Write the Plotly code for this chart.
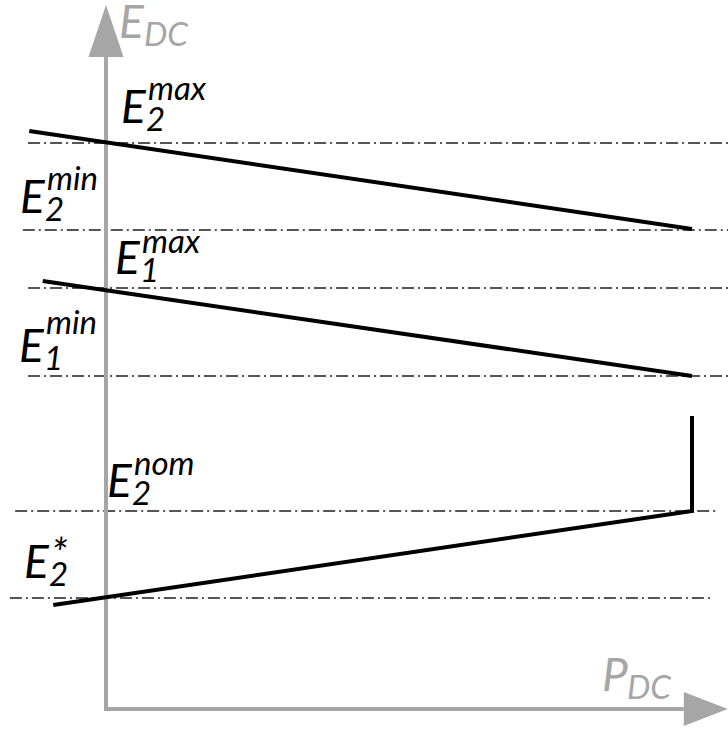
import plotly.graph_objects as go

# DC voltage levels (arbitrary units on the E axis)
level_values = [5.66, 4.79, 4.21, 3.33, 1.98, 1.11]
level_main = ["E", "E", "E", "E", "E", "E"]
level_sub = ["2", "2", "1", "1", "2", "2"]
level_sup = ["max", "min", "max", "min", "nom", "*"]
guide_start = [-0.133, -0.142, -0.133, -0.133, -0.155, -0.164]
guide_end = [1.062, 1.062, 1.062, 1.062, 1.046, 1.036]

# Droop characteristics E(P)
char1_p = [-0.131, 1.0]
char1_e = [5.78, 4.80]
char2_p = [-0.108, 1.0]
char2_e = [4.28, 3.33]
char3_p = [-0.090, 1.0, 1.0]
char3_e = [1.04, 1.98, 2.93]

# Axis extents
p_axis_start, p_axis_end, p_axis_tip = -0.0034, 0.986, 1.061
e_axis_start, e_axis_end, e_axis_tip = -0.02, 6.52, 7.04

AXIS_GREY = "#a6a6a6"
GUIDE_GREY = "#555555"
FONT = "Lato"
BIG, SMALL = 46, 33

fig = go.Figure()

# dash-dot guide lines for each level
for y, x0, x1 in zip(level_values, guide_start, guide_end):
    fig.add_trace(go.Scatter(
        x=[x0, x1], y=[y, y], mode="lines",
        line=dict(color=GUIDE_GREY, width=2, dash="12px,4px,2px,4px"),
        hoverinfo="skip", showlegend=False))

# axes with arrow heads
fig.add_trace(go.Scatter(x=[0, 0], y=[e_axis_start, e_axis_end], mode="lines",
                         line=dict(color=AXIS_GREY, width=4),
                         hoverinfo="skip", showlegend=False))
fig.add_trace(go.Scatter(x=[p_axis_start, p_axis_end], y=[0, 0], mode="lines",
                         line=dict(color=AXIS_GREY, width=4),
                         hoverinfo="skip", showlegend=False))
fig.add_trace(go.Scatter(x=[-0.0299, 0.0299, 0, -0.0299],
                         y=[e_axis_end, e_axis_end, e_axis_tip, e_axis_end],
                         mode="lines", fill="toself", fillcolor=AXIS_GREY,
                         line=dict(color=AXIS_GREY, width=0),
                         hoverinfo="skip", showlegend=False))
fig.add_trace(go.Scatter(x=[p_axis_end, p_axis_end, p_axis_tip, p_axis_end],
                         y=[-0.17, 0.17, 0, -0.17],
                         mode="lines", fill="toself", fillcolor=AXIS_GREY,
                         line=dict(color=AXIS_GREY, width=0),
                         hoverinfo="skip", showlegend=False))

# characteristics
for px, ey in ((char1_p, char1_e), (char2_p, char2_e), (char3_p, char3_e)):
    fig.add_trace(go.Scatter(x=px, y=ey, mode="lines",
                             line=dict(color="black", width=4),
                             hoverinfo="skip", showlegend=False))


def text(x, y, s, size, color, dx, dy):
    # dy is the baseline height in px above the anchor point
    fig.add_annotation(x=x, y=y, xref="x", yref="y", text="<i>%s</i>" % s,
                       showarrow=False, xanchor="left", yanchor="bottom",
                       xshift=dx, yshift=dy - round(0.213 * size),
                       borderpad=0, borderwidth=0,
                       font=dict(family=FONT, size=size, color=color))


def symbol(x, y, main, sub, sup, dx, db, sup_db, sup_size=SMALL, color="black"):
    # main letter with stacked subscript / superscript
    text(x, y, main, BIG, color, dx - 3, db)
    if sub:
        text(x, y, sub, SMALL, color, dx + 22, db - 8)
    if sup:
        text(x, y, sup, sup_size, color, dx + 24, db + sup_db)


# label offsets (px) relative to the E axis and each level
label_dx = [18, -83, 12, -84, 4, -79]
label_db = [20, 17, 14, 14, 14, 20]
label_sup = [23, 23, 21, 28, 22, 9]
label_sup_size = [SMALL, SMALL, SMALL, SMALL, SMALL, 42]
for y, m, sb, sp, dx, db, sdb, ss in zip(level_values, level_main, level_sub,
                                         level_sup, label_dx, label_db,
                                         label_sup, label_sup_size):
    symbol(0, y, m, sb, sp, dx, db, sdb, ss)

# axis titles
symbol(0, 0, "E", "DC", None, 16, 671, 0, color=AXIS_GREY)
symbol(p_axis_end, 0, "P", "DC", None, 605 - 684, 18, 0, color=AXIS_GREY)

fig.update_layout(
    width=728, height=729,
    margin=dict(l=0, r=0, t=0, b=0),
    plot_bgcolor="white", paper_bgcolor="white",
    xaxis=dict(range=[-0.18089, 1.06143], visible=False, fixedrange=True),
    yaxis=dict(range=[-0.20, 7.09], visible=False, fixedrange=True),
    showlegend=False,
)

fig.write_html("out.html")
